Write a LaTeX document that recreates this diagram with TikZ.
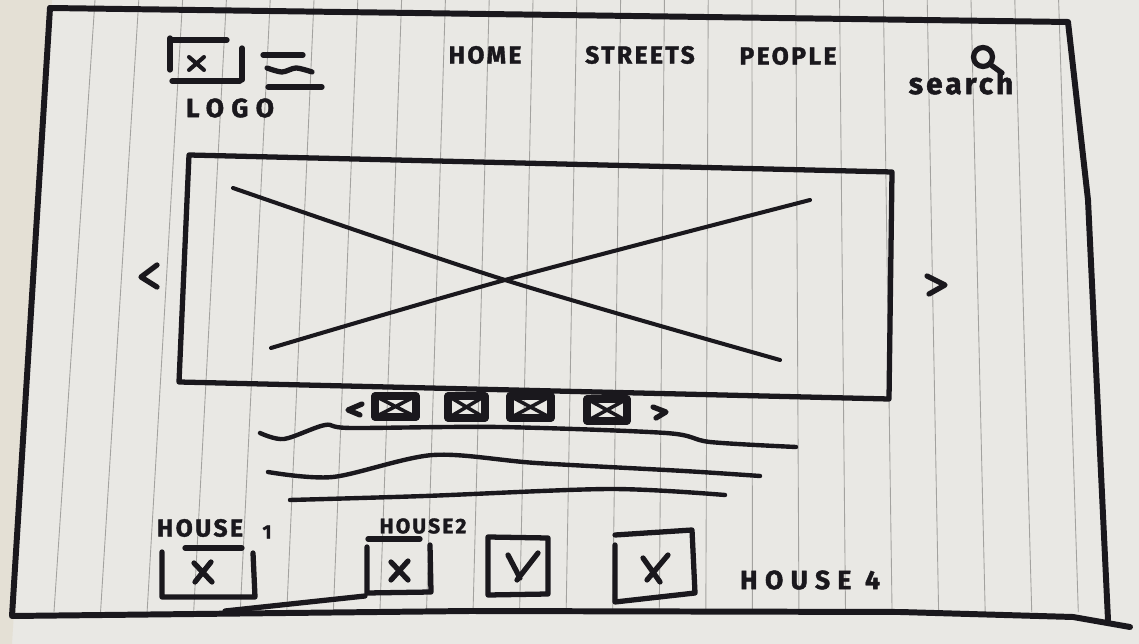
\documentclass[tikz,border=0pt]{standalone}
\usepackage{fontspec}
\newfontfamily\hand[LetterSpace=10,FakeBold=1.6]{Fira Sans}
\newfontfamily\handwide[LetterSpace=28,FakeBold=1.6]{Fira Sans}
\definecolor{ink}{HTML}{1A181D}
\definecolor{paper}{HTML}{E9E8E4}
\definecolor{margin}{HTML}{E4E0D5}
\definecolor{ruling}{HTML}{A3A29F}
\begin{document}
\begin{tikzpicture}[x=0.02cm,y=-0.02cm,
    pen/.style={draw=ink,line width=3pt,line cap=round,line join=round},
    fine pen/.style={draw=ink,line width=2.3pt,line cap=round,line join=round},
    frame pen/.style={draw=ink,line width=3.4pt,line cap=round,line join=round},
    handtext/.style={text=ink,inner sep=0pt,font=\hand\bfseries\fontsize{14}{14}\selectfont}]
  % paper
  \useasboundingbox (0,0) rectangle (1139,644);
  \fill[paper] (0,0) rectangle (1139,644);
  \fill[margin] (0,0) -- (52,0) -- (12,644) -- (0,644) -- cycle;
  \foreach \i in {0,...,22}{
    \pgfmathsetmacro\xt{95+43.8*\i}
    \pgfmathsetmacro\xb{\xt-47+0.063*\xt}
    \draw[ruling,line width=0.5pt] (\xt,0) -- (\xb,612);
  }
  % outer frame
  \coordinate (F1) at (50,8);
  \coordinate (F2) at (1068,22);
  \coordinate (F3) at (1088,200);
  \coordinate (F4) at (1108,620);
  \coordinate (F5) at (12,616);
  \draw[frame pen] (F1) -- (F2) -- (F3) -- (F4);
  \draw[frame pen] (F1) -- (F5) -- (470,611) -- (900,612) -- (1073,617) -- (1130,627);
  % logo and menu
  \draw[pen] (170,38) -- (170,70);
  \draw[pen] (170,40) -- (227,40);
  \draw[pen] (172,81) -- (240,81);
  \draw[pen] (242,48) -- (242,80);
  \draw[fine pen] (189,57) -- (204,70) (204,57) -- (189,70);
  \draw[pen] (263,55) -- (303,55);
  \draw[pen] plot[smooth] coordinates {(267,68) (282,72) (296,68) (312,72)};
  \draw[pen] (268,87) -- (322,87);
  \node[handtext,font=\handwide\bfseries\fontsize{15}{15}\selectfont] (logo) at (230,108) {LOGO};
  % navigation
  \node[handtext] (home) at (485,55) {HOME};
  \node[handtext] (streets) at (640,55) {STREETS};
  \node[handtext] (people) at (788,56) {PEOPLE};
  \draw[pen] (983,57) circle[radius=0.19cm];
  \draw[pen] (991,65) -- (1002,73);
  \node[handtext,font=\hand\bfseries\fontsize{17}{17}\selectfont] (search) at (961,83) {search};
  % hero image
  \coordinate (H1) at (189,155);
  \coordinate (H2) at (892,172);
  \coordinate (H3) at (889,399);
  \coordinate (H4) at (179,382);
  \draw[pen] (H1) -- (H2) -- (H3) -- (H4) -- cycle;
  \draw[fine pen] plot[smooth] coordinates {(233,188) (505,280) (780,360)};
  \draw[fine pen] plot[smooth] coordinates {(271,348) (505,280) (810,200)};
  \draw[pen] (157,265) -- (141,277) -- (157,287);
  \draw[pen] (927,276) -- (945,285) -- (929,294);
  % thumbnails
  \draw[pen] (362,404) -- (348,410) -- (360,415);
  \foreach \l/\t/\r/\b in {375/396/416/417, 448/396/485/418, 510/396/551/418, 587/399/627/421}{
    \draw[pen,line width=4pt] (\l,\t) rectangle (\r,\b);
    \draw[fine pen,line width=2pt] (\l,\t) -- (\r,\b) (\l,\b) -- (\r,\t);
  }
  \draw[pen] (653,407) -- (666,412) -- (656,418);
  % text lines
  \draw[pen,line width=2.5pt] plot[smooth] coordinates {(260,433) (284,439) (325,425) (351,428) (499,427) (666,433) (710,442) (796,447)};
  \draw[pen,line width=2.5pt] plot[smooth] coordinates {(268,472) (333,477) (433,455) (536,463) (684,471) (760,476)};
  \draw[pen,line width=2.5pt] plot[smooth] coordinates {(290,500) (425,496) (610,489) (725,495)};
  % houses
  \node[handtext,font=\hand\bfseries\fontsize{14}{14}\selectfont] (house1) at (200,528) {HOUSE};
  \node[handtext,font=\hand\bfseries\fontsize{11}{11}\selectfont] (one) at (267,532) {1};
  \draw[pen] (185,548) -- (242,548);
  \draw[pen] (162,552) -- (162,597) -- (255,597) -- (253,553);
  \draw[pen] (194,563) -- (212,582) (211,562) -- (195,582);
  \node[handtext,font=\hand\bfseries\fontsize{12}{12}\selectfont] (house2) at (423,526) {HOUSE2};
  \draw[pen] (368,539) -- (420,539);
  \draw[pen] (367,547) -- (367,593) -- (431,592) -- (430,545);
  \draw[pen] (391,562) -- (408,580) (408,561) -- (391,580);
  \draw[pen] (225,611) -- (365,596);
  \draw[pen] (488,537) -- (548,538) -- (548,594) -- (488,595) -- cycle;
  \draw[pen] (508,555) -- (520,578) (538,553) -- (517,580);
  \draw[pen] (615,545) -- (615,602) -- (695,593) -- (692,530) -- (615,535);
  \draw[pen] (643,558) -- (660,582) (668,555) -- (647,580);
  \node[handtext,font=\handwide\bfseries\fontsize{15}{15}\selectfont] (house4) at (810,580) {HOUSE 4};
\end{tikzpicture}
\end{document}
